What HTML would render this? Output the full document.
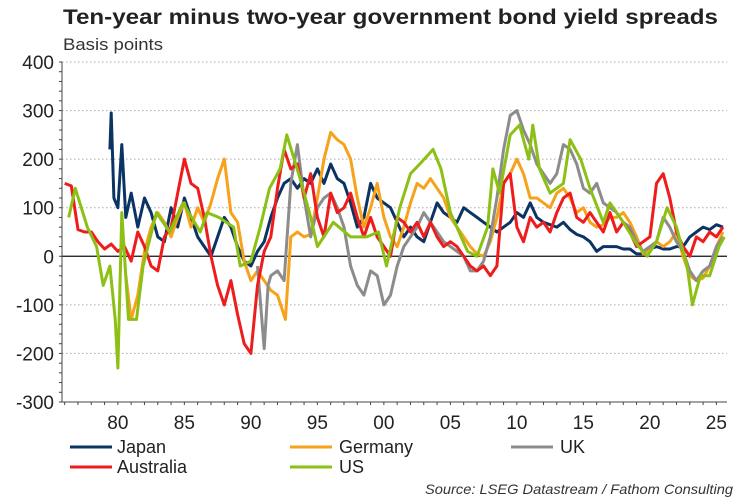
<!DOCTYPE html>
<html><head><meta charset="utf-8"><style>
body{margin:0;background:#fff;width:750px;height:500px;overflow:hidden;font-family:"Liberation Sans",Arial,sans-serif}
svg{display:block}
</style></head><body>
<svg id="chart" width="750" height="500">
<text x="63" y="24" font-size="21" font-weight="bold" fill="#222" textLength="655" lengthAdjust="spacingAndGlyphs">Ten-year minus two-year government bond yield spreads</text>
<text x="63" y="50" font-size="17" fill="#333" textLength="100" lengthAdjust="spacingAndGlyphs">Basis points</text>
<g id="grid"></g><g id="axes"></g><g id="series"></g>
<g>
<line x1="70" y1="447" x2="112" y2="447" stroke="#0b3464" stroke-width="3"/><text x="117" y="453" font-size="18" fill="#222">Japan</text>
<line x1="290" y1="447" x2="332" y2="447" stroke="#f7a21b" stroke-width="3"/><text x="339" y="453" font-size="18" fill="#222">Germany</text>
<line x1="511" y1="447" x2="553" y2="447" stroke="#8c8c8c" stroke-width="3"/><text x="560" y="453" font-size="18" fill="#222">UK</text>
<line x1="70" y1="467" x2="112" y2="467" stroke="#ee1c1c" stroke-width="3"/><text x="117" y="473" font-size="18" fill="#222">Australia</text>
<line x1="290" y1="467" x2="332" y2="467" stroke="#8cc014" stroke-width="3"/><text x="339" y="473" font-size="18" fill="#222">US</text>
</g>
<text x="733" y="494" font-size="14" font-style="italic" fill="#333" text-anchor="end" textLength="308" lengthAdjust="spacingAndGlyphs">Source: LSEG Datastream / Fathom Consulting</text>
</svg>
<script>
const yTicks=[400,300,200,100,0,-100,-200,-300];
const xTickYears=[1980,1985,1990,1995,2000,2005,2010,2015,2020,2025];
const xTickLabels=["80","85","90","95","00","05","10","15","20","25"];
const jpYears=[1979.4,1979.5,1979.7,1980,1980.3,1980.6,1981,1981.5,1982,1982.5,1983,1983.5,1984,1984.5,1985,1985.5,1986,1986.5,1987,1987.5,1988,1988.5,1989,1989.5,1990,1990.5,1991,1991.5,1992,1992.5,1993,1993.5,1994,1994.5,1995,1995.5,1996,1996.5,1997,1997.5,1998,1998.5,1999,1999.5,2000,2000.5,2001,2001.5,2002,2002.5,2003,2003.5,2004,2004.5,2005,2005.5,2006,2006.5,2007,2007.5,2008,2008.5,2009,2009.5,2010,2010.5,2011,2011.5,2012,2012.5,2013,2013.5,2014,2014.5,2015,2015.5,2016,2016.5,2017,2017.5,2018,2018.5,2019,2019.5,2020,2020.5,2021,2021.5,2022,2022.5,2023,2023.5,2024,2024.5,2025,2025.5];
const jpVals=[220,295,120,100,230,80,130,60,120,90,40,30,100,60,120,80,40,20,0,40,80,60,20,-10,-20,10,30,80,120,150,160,140,160,150,180,150,190,160,150,110,60,80,150,120,110,100,70,40,60,40,30,70,110,90,80,70,100,90,80,70,60,50,60,70,90,80,110,80,70,65,60,70,55,45,40,30,10,20,20,20,15,15,5,5,15,20,15,15,20,20,40,50,60,55,65,60];
const deYears=[1980.6,1981,1981.5,1982,1982.5,1983,1983.5,1984,1984.5,1985,1985.5,1986,1986.5,1987,1987.5,1988,1988.5,1989,1989.5,1990,1990.5,1991,1991.5,1992,1992.6,1993,1993.5,1994,1994.5,1995,1995.5,1996,1996.5,1997,1997.5,1998,1998.5,1999,1999.5,2000,2000.5,2001,2001.5,2002,2002.5,2003,2003.5,2004,2004.5,2005,2005.5,2006,2006.5,2007,2007.5,2008,2008.5,2009,2009.5,2010,2010.5,2011,2011.5,2012,2012.5,2013,2013.5,2014,2014.5,2015,2015.5,2016,2016.5,2017,2017.5,2018,2018.5,2019,2019.5,2020,2020.5,2021,2021.5,2022,2022.5,2023,2023.5,2024,2024.5,2025,2025.5];
const deVals=[-40,-130,-80,10,60,90,70,40,80,110,60,100,70,110,160,200,90,70,-10,-50,-30,-50,-70,-80,-130,40,50,40,45,120,200,255,240,230,200,120,60,100,150,80,40,20,60,110,150,140,160,140,120,80,60,40,20,5,0,30,80,150,170,200,170,120,120,110,100,130,140,120,90,100,70,60,65,80,80,90,70,40,5,15,30,20,30,50,0,-40,-50,-45,-20,20,50];
const ukYears=[1990.5,1991,1991.3,1991.5,1992,1992.5,1993,1993.5,1994,1994.5,1995,1995.5,1996,1996.5,1997,1997.5,1998,1998.5,1999,1999.5,2000,2000.5,2001,2001.5,2002,2002.5,2003,2003.5,2004,2004.5,2005,2005.5,2006,2006.5,2007,2007.5,2008,2008.5,2009,2009.5,2010,2010.5,2011,2011.5,2012,2012.5,2013,2013.5,2014,2014.5,2015,2015.5,2016,2016.5,2017,2017.5,2018,2018.5,2019,2019.5,2020,2020.5,2021,2021.5,2022,2022.5,2023,2023.5,2024,2024.5,2025,2025.5];
const ukVals=[-20,-190,-60,-40,-30,-50,150,230,120,40,100,120,130,100,60,-20,-60,-80,-30,-40,-100,-80,-20,20,40,60,90,70,50,30,20,10,0,-30,-30,-10,40,120,220,290,300,260,230,190,170,150,170,230,220,190,140,130,150,110,100,90,70,60,30,10,20,30,80,60,30,10,-30,-50,-30,-20,20,40];
const auYears=[1976,1976.5,1977,1977.5,1978,1978.5,1979,1979.5,1980,1980.5,1981,1981.5,1982,1982.5,1983,1983.5,1984,1984.5,1985,1985.5,1986,1986.5,1987,1987.5,1988,1988.5,1989,1989.5,1990,1990.5,1991,1991.5,1992,1992.5,1993,1993.5,1994,1994.5,1995,1995.5,1996,1996.5,1997,1997.5,1998,1998.5,1999,1999.5,2000,2000.5,2001,2001.5,2002,2002.5,2003,2003.5,2004,2004.5,2005,2005.5,2006,2006.5,2007,2007.5,2008,2008.5,2009,2009.5,2010,2010.5,2011,2011.5,2012,2012.5,2013,2013.5,2014,2014.5,2015,2015.5,2016,2016.5,2017,2017.5,2018,2018.5,2019,2019.5,2020,2020.5,2021,2021.5,2022,2022.5,2023,2023.5,2024,2024.5,2025,2025.5];
const auVals=[150,145,55,50,50,30,15,25,10,20,-10,50,20,-20,-30,40,60,130,200,150,140,80,0,-60,-100,-50,-120,-180,-200,-60,10,40,140,220,180,190,120,170,80,40,130,90,100,130,80,40,80,40,20,0,80,70,50,70,40,70,40,20,30,20,0,-20,-30,-20,-40,-20,150,170,60,30,80,60,70,50,90,120,130,80,70,90,70,50,90,50,70,50,20,30,40,150,170,120,50,20,0,40,30,50,40,60];
const usYears=[1976.3,1976.8,1977.7,1978.4,1978.9,1979.4,1979.8,1980,1980.3,1980.8,1981.4,1981.9,1982.9,1983.9,1984.9,1986.2,1986.7,1987.6,1988.7,1989.2,1990,1990.7,1991.4,1992.2,1992.7,1993.7,1994.5,1995,1996.2,1997.5,1998.7,1999.6,2000.2,2001.2,2002,2002.7,2003.7,2004.3,2005,2006.3,2007,2007.8,2008.2,2008.7,2009.5,2010.2,2010.9,2011.2,2011.7,2012.5,2013.5,2014,2014.8,2015.5,2016.5,2017,2018,2019,2019.8,2020.5,2021.3,2022,2022.8,2023.2,2023.8,2024.5,2025.2,2025.6];
const usVals=[80,140,60,20,-60,-20,-130,-230,90,-130,-130,-20,90,50,110,50,90,80,60,-20,-10,60,140,180,250,160,80,20,70,40,40,50,-20,100,170,190,220,180,90,10,0,60,180,130,250,270,200,270,180,130,150,240,200,140,70,110,70,25,0,30,100,60,-20,-100,-40,-40,20,40];
const X0=62,X1=727,Y0=62,Y1=402,yr0=1975.8,yr1=2025.8,vmax=400,vmin=-300;
const xs=y=>X0+(y-yr0)/(yr1-yr0)*(X1-X0);
const ys=v=>Y0+(vmax-v)/(vmax-vmin)*(Y1-Y0);
const NS="http://www.w3.org/2000/svg";
function mk(t,a,p){const e=document.createElementNS(NS,t);for(const k in a)e.setAttribute(k,a[k]);p.appendChild(e);return e;}
const grid=document.getElementById('grid'),axes=document.getElementById('axes'),ser=document.getElementById('series');
yTicks.forEach(v=>{
  if(v!==0&&v!==vmin){const g=mk('line',{x1:X0,x2:X1,y1:ys(v),y2:ys(v),stroke:'#aaa','stroke-dasharray':'1.5,2.5','stroke-width':1},grid);
  
  }
  const t=mk('text',{x:54,y:ys(v)+7,'font-size':19,'text-anchor':'end',fill:'#222'},axes);t.textContent=v;
  
  
});
for(let v=vmin;v<=vmax;v+=20){mk('line',{x1:X0-3,x2:X0,y1:ys(v),y2:ys(v),stroke:'#444','stroke-width':1},axes);}
const ya=mk('line',{x1:X0,x2:X0,y1:Y0,y2:Y1,stroke:'#444','stroke-width':1},axes);


const xa=mk('line',{x1:X0,x2:X1,y1:Y1,y2:Y1,stroke:'#444','stroke-width':1},axes);


for(let y=1976;y<=2025;y++){mk('line',{x1:xs(y),x2:xs(y),y1:Y1,y2:Y1+3,stroke:'#444','stroke-width':1},axes);}
xTickYears.forEach((y,i)=>{const t=mk('text',{x:xs(y),y:Y1+27,'font-size':19,'text-anchor':'middle',fill:'#222'},axes);t.textContent=xTickLabels[i];
  
  });
const z=mk('line',{x1:X0,x2:X1,y1:ys(0),y2:ys(0),stroke:'#111','stroke-width':1.2},grid);


function draw(years,vals,color,name){
  const d=years.map((y,i)=>(i?'L':'M')+xs(y).toFixed(1)+','+ys(vals[i]).toFixed(1)).join('');
  const p=mk('path',{d:d,fill:'none',stroke:color,'stroke-width':3,'stroke-linejoin':'round'},ser);
  
  
}
draw(jpYears,jpVals,'#0b3464','series-japan');
draw(deYears,deVals,'#f7a21b','series-germany');
draw(ukYears,ukVals,'#8c8c8c','series-uk');
draw(auYears,auVals,'#ee1c1c','series-australia');
draw(usYears,usVals,'#8cc014','series-us');
</script>
</body></html>
